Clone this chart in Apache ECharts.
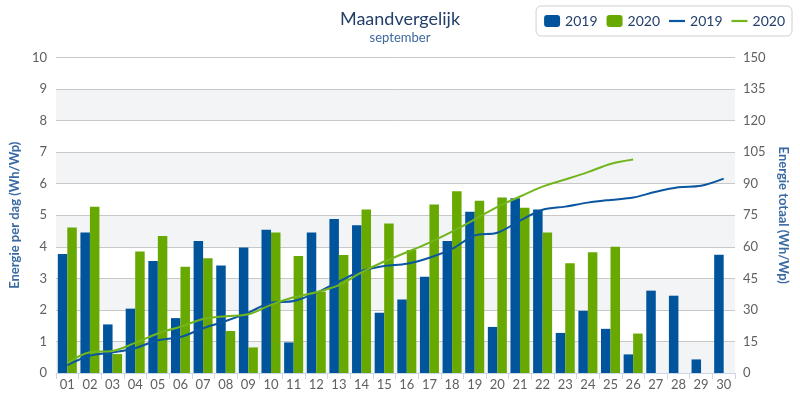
<!DOCTYPE html>
<html>
<head>
<meta charset="utf-8">
<script src="https://cdn.jsdelivr.net/npm/echarts@6/dist/echarts.min.js"></script>
<style>
html,body{margin:0;padding:0;background:#fff;}
#chart{width:800px;height:396px;}
</style>
</head>
<body>
<div id="chart"></div>
<script>
const days = ['01','02','03','04','05','06','07','08','09','10','11','12','13','14','15','16','17','18','19','20','21','22','23','24','25','26','27','28','29','30'];
const daily2019 = [3.77,4.45,1.54,2.04,3.55,1.74,4.18,3.41,3.98,4.54,0.97,4.45,4.88,4.68,1.91,2.33,3.05,4.18,5.11,1.46,5.54,5.18,1.27,1.97,1.40,0.59,2.61,2.45,0.43,3.75];
const daily2020 = [4.61,5.27,0.60,3.85,4.34,3.37,3.64,1.33,0.81,4.45,3.71,2.58,3.74,5.18,4.74,3.90,5.34,5.76,5.46,5.56,5.24,4.45,3.48,3.83,4.00,1.25];
const total2019 = [3.8,8.2,9.8,11.8,15.6,17.1,21.3,24.7,28.7,33.4,34.2,38.2,43.5,48.5,50.9,51.9,54.8,59.0,65.4,66.7,72.4,77.6,79.1,81.0,82.3,83.4,86.2,88.3,89.0,92.4];
const total2020 = [4.6,9.9,10.5,14.3,18.8,22.0,25.7,27.0,27.9,32.4,36.0,38.4,41.8,47.8,53.0,57.4,62.0,67.2,73.0,79.0,83.9,88.6,92.0,95.5,99.4,101.5];
const leftTicks = {min:0, max:10, interval:1};
const rightTicks = {min:0, max:150, interval:15};

const BLUE = '#00549b';
const GREEN = '#67a900';
const LBLUE = '#0a56a0';
const LGREEN = '#72b51c';
const FONT = 'Lato, "Open Sans", sans-serif';

const chart = echarts.init(document.getElementById('chart'), null, {renderer:'canvas'});
const linePath = 'path://M0,0 L16,0 L16,2.2 L0,2.2 Z';
chart.setOption({
  animation:false,
  backgroundColor:'#ffffff',
  title:{
    text:'Maandvergelijk', subtext:'september',
    left:395, textAlign:'center', top:5, itemGap:3,
    textStyle:{fontFamily:FONT, fontSize:18, fontWeight:'normal', color:'#223f6a'},
    subtextStyle:{fontFamily:FONT, fontSize:13, color:'#3c68a0'}
  },
  legend:{
    right:8, top:6,
    borderColor:'#cfcfcf', borderWidth:1, borderRadius:5,
    padding:[8,7,8,8],
    itemWidth:16, itemHeight:12, itemGap:9,
    textStyle:{fontFamily:FONT, fontSize:14, color:'#223f6a'},
    formatter:function(n){return n.replace(/^(bar|line)/,'');},
    data:[
      {name:'bar2019', icon:'roundRect'},
      {name:'bar2020', icon:'roundRect'},
      {name:'line2019', icon:linePath},
      {name:'line2020', icon:linePath}
    ]
  },
  grid:{left:48, right:65, top:57.5, bottom:23, containLabel:false},
  xAxis:{
    type:'category', data:days,
    axisLine:{lineStyle:{color:'#ccd6eb'}},
    axisTick:{show:true, alignWithLabel:false, length:6, lineStyle:{color:'#ccd6eb'}},
    axisLabel:{fontFamily:FONT, fontSize:13, color:'#606060', margin:5}
  },
  yAxis:[
    {
      type:'value', min:leftTicks.min, max:leftTicks.max, interval:leftTicks.interval,
      name:'Energie per dag (Wh/Wp)', nameLocation:'middle', nameRotate:90, nameGap:34,
      nameTextStyle:{fontFamily:FONT, fontSize:13, fontWeight:'bold', color:'#3b6aa3'},
      axisLine:{show:false}, axisTick:{show:false},
      axisLabel:{fontFamily:FONT, fontSize:13, color:'#606060', margin:9},
      splitLine:{show:true, lineStyle:{color:'#c8c8c8', width:1}},
      splitArea:{show:true, areaStyle:{color:['#f2f4f5','#ffffff']}}
    },
    {
      type:'value', min:rightTicks.min, max:rightTicks.max, interval:rightTicks.interval,
      name:'Energie totaal (Wh/Wp)', nameLocation:'middle', nameRotate:-90, nameGap:36,
      nameTextStyle:{fontFamily:FONT, fontSize:13, fontWeight:'bold', color:'#3b6aa3'},
      axisLine:{show:false}, axisTick:{show:false},
      axisLabel:{fontFamily:FONT, fontSize:13, color:'#606060', margin:8},
      splitLine:{show:false}
    }
  ],
  series:[
    {name:'bar2019', type:'bar', data:daily2019, yAxisIndex:0, barWidth:9.5, barGap:'0%',
      itemStyle:{color:BLUE}},
    {name:'bar2020', type:'bar', data:daily2020, yAxisIndex:0, barWidth:9.5, barGap:'0%',
      itemStyle:{color:GREEN}},
    {name:'line2019', type:'line', data:total2019, yAxisIndex:1, smooth:0.35, showSymbol:false,
      lineStyle:{color:LBLUE, width:2}, itemStyle:{color:LBLUE}},
    {name:'line2020', type:'line', data:total2020, yAxisIndex:1, smooth:0.35, showSymbol:false,
      lineStyle:{color:LGREEN, width:2}, itemStyle:{color:LGREEN}}
  ]
});
</script>
</body>
</html>
